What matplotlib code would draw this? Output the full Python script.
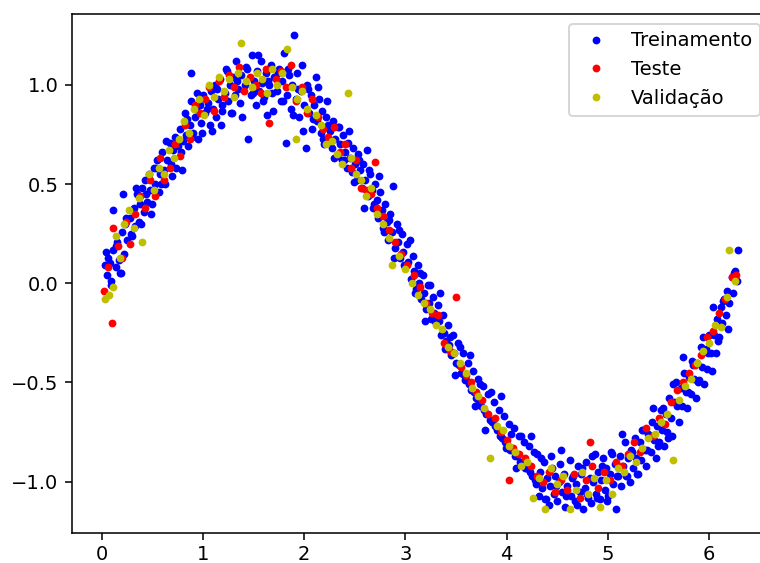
import matplotlib
matplotlib.use("Agg")
import matplotlib.pyplot as plt

# (x, y) points
treino = [
    (0.03, 0.09), (0.05, 0.04), (0.06, 0.13), (0.08, 0.10), (0.09, 0.01), (0.11, 0.17), (0.11, 0.37),
    (0.14, 0.08), (0.15, 0.21), (0.17, 0.12), (0.18, 0.05), (0.20, 0.26), (0.21, 0.45), (0.22, 0.15),
    (0.23, 0.30), (0.25, 0.22), (0.28, 0.33), (0.30, 0.24), (0.32, 0.38), (0.33, 0.29), (0.35, 0.45),
    (0.37, 0.31), (0.38, 0.40), (0.40, 0.48), (0.42, 0.36), (0.43, 0.52), (0.45, 0.41), (0.47, 0.55),
    (0.48, 0.47), (0.50, 0.40), (0.52, 0.58), (0.53, 0.50), (0.55, 0.62), (0.57, 0.46), (0.58, 0.55),
    (0.60, 0.66), (0.62, 0.57), (0.63, 0.50), (0.65, 0.62), (0.67, 0.71), (0.68, 0.60), (0.70, 0.67),
    (0.72, 0.74), (0.73, 0.58), (0.75, 0.69), (0.77, 0.78), (0.78, 0.66), (0.80, 0.72), (0.82, 0.86),
    (0.83, 0.75), (0.85, 0.69), (0.87, 0.80), (0.88, 0.92), (0.88, 1.06), (0.90, 0.76), (0.92, 0.84),
    (0.93, 0.88), (0.95, 0.73), (0.97, 0.90), (0.98, 0.81), (1.00, 0.95), (1.02, 0.86), (1.05, 0.91),
    (1.07, 0.80), (1.08, 0.97), (1.10, 0.88), (1.12, 1.00), (1.13, 0.84), (1.15, 0.93), (1.17, 1.03),
    (1.18, 0.80), (1.19, 0.90), (1.22, 0.96), (1.23, 1.08), (1.25, 0.92), (1.27, 1.00), (1.28, 0.86),
    (1.30, 1.04), (1.32, 0.95), (1.33, 1.12), (1.35, 0.98), (1.37, 0.91), (1.38, 1.05), (1.42, 1.00),
    (1.43, 1.09), (1.45, 0.73), (1.47, 0.95), (1.48, 1.15), (1.50, 1.02), (1.52, 0.90), (1.53, 1.07),
    (1.55, 0.97), (1.57, 1.12), (1.58, 1.01), (1.60, 0.94), (1.62, 1.06), (1.63, 0.85), (1.65, 1.00),
    (1.67, 1.10), (1.68, 0.96), (1.70, 1.04), (1.73, 0.97), (1.75, 1.08), (1.77, 0.92), (1.78, 1.02),
    (1.80, 1.16), (1.82, 0.71), (1.83, 0.95), (1.85, 1.05), (1.87, 0.88), (1.88, 1.00), (1.90, 1.25),
    (1.92, 0.93), (1.93, 1.06), (1.95, 0.84), (1.97, 0.97), (1.98, 1.10), (2.00, 0.90), (2.02, 0.68),
    (2.03, 1.00), (2.05, 0.86), (2.07, 0.95), (2.08, 0.78), (2.10, 0.90), (2.12, 1.04), (2.13, 0.82),
    (2.15, 0.93), (2.17, 0.76), (2.18, 0.87), (2.20, 0.70), (2.22, 0.84), (2.23, 0.92), (2.25, 0.77),
    (2.27, 0.68), (2.28, 0.82), (2.30, 0.73), (2.32, 0.64), (2.33, 0.79), (2.35, 0.70), (2.37, 0.62),
    (2.38, 0.75), (2.40, 0.66), (2.42, 0.58), (2.43, 0.71), (2.45, 0.63), (2.47, 0.56), (2.48, 0.68),
    (2.50, 0.60), (2.52, 0.52), (2.53, 0.65), (2.55, 0.57), (2.57, 0.48), (2.58, 0.60), (2.60, 0.52),
    (2.62, 0.67), (2.63, 0.44), (2.65, 0.55), (2.67, 0.47), (2.68, 0.38), (2.70, 0.50), (2.72, 0.42),
    (2.73, 0.33), (2.75, 0.46), (2.77, 0.37), (2.78, 0.28), (2.80, 0.40), (2.82, 0.31), (2.83, 0.22),
    (2.85, 0.35), (2.87, 0.26), (2.88, 0.49), (2.90, 0.18), (2.92, 0.30), (2.93, 0.21), (2.95, 0.13),
    (2.97, 0.25), (2.98, 0.16), (3.00, 0.08), (3.02, 0.20), (3.03, 0.11), (3.05, 0.02), (3.07, 0.14),
    (3.08, 0.06), (3.10, -0.03), (3.12, 0.09), (3.13, 0.00), (3.15, -0.08), (3.17, 0.04), (3.18, -0.05),
    (3.20, -0.13), (3.22, -0.01), (3.23, -0.10), (3.25, -0.18), (3.27, -0.07), (3.28, -0.15),
    (3.30, -0.20), (3.32, -0.11), (3.33, -0.19), (3.35, -0.26), (3.37, -0.16), (3.38, -0.25),
    (3.40, -0.29), (3.42, -0.21), (3.43, -0.31), (3.45, -0.36), (3.47, -0.26), (3.48, -0.35),
    (3.50, -0.40), (3.52, -0.30), (3.53, -0.41), (3.55, -0.45), (3.57, -0.35), (3.58, -0.46),
    (3.60, -0.49), (3.62, -0.40), (3.63, -0.51), (3.65, -0.54), (3.67, -0.44), (3.68, -0.55),
    (3.70, -0.58), (3.72, -0.48), (3.73, -0.60), (3.75, -0.62), (3.77, -0.52), (3.78, -0.64),
    (3.80, -0.66), (3.82, -0.56), (3.83, -0.69), (3.85, -0.70), (3.87, -0.60), (3.88, -0.72),
    (3.90, -0.74), (3.92, -0.64), (3.93, -0.77), (3.95, -0.78), (3.97, -0.67), (3.98, -0.80),
    (4.00, -0.81), (4.02, -0.71), (4.03, -0.84), (4.05, -0.84), (4.07, -0.73), (4.08, -0.87),
    (4.10, -0.87), (4.12, -0.77), (4.13, -0.90), (4.15, -0.90), (4.17, -0.80), (4.18, -0.93),
    (4.20, -0.93), (4.22, -0.82), (4.23, -0.95), (4.25, -0.97), (4.27, -0.85), (4.28, -0.99),
    (4.30, -0.86), (4.32, -1.07), (4.33, -0.95), (4.35, -1.03), (4.37, -0.90), (4.38, -1.09),
    (4.40, -0.98), (4.42, -1.12), (4.43, -1.02), (4.45, -0.93), (4.47, -1.06), (4.48, -0.97),
    (4.50, -1.10), (4.52, -1.00), (4.53, -0.91), (4.55, -1.05), (4.57, -0.96), (4.58, -1.13),
    (4.60, -1.02), (4.62, -0.89), (4.63, -1.07), (4.65, -0.97), (4.67, -1.10), (4.68, -1.01),
    (4.70, -0.92), (4.72, -1.05), (4.73, -0.96), (4.75, -1.14), (4.77, -1.03), (4.78, -0.90),
    (4.80, -1.08), (4.82, -0.98), (4.83, -1.11), (4.85, -1.00), (4.87, -0.86), (4.88, -1.06),
    (4.90, -0.95), (4.92, -1.09), (4.93, -0.99), (4.95, -0.88), (4.97, -1.04), (4.98, -0.93),
    (5.00, -1.07), (5.02, -0.96), (5.03, -0.85), (5.05, -1.01), (5.07, -0.91), (5.08, -1.14),
    (5.10, -0.97), (5.12, -0.87), (5.13, -1.02), (5.15, -0.92), (5.17, -0.80), (5.18, -0.97),
    (5.20, -0.88), (5.22, -1.00), (5.23, -0.84), (5.25, -0.93), (5.27, -0.78), (5.28, -0.88),
    (5.30, -0.96), (5.32, -0.80), (5.33, -0.89), (5.35, -0.74), (5.37, -0.84), (5.38, -0.92),
    (5.40, -0.76), (5.42, -0.85), (5.43, -0.70), (5.45, -0.79), (5.47, -0.88), (5.48, -0.72),
    (5.50, -0.80), (5.52, -0.64), (5.53, -0.74), (5.55, -0.82), (5.57, -0.66), (5.58, -0.75),
    (5.60, -0.58), (5.62, -0.68), (5.63, -0.77), (5.65, -0.60), (5.67, -0.50), (5.68, -0.62),
    (5.70, -0.70), (5.72, -0.53), (5.73, -0.62), (5.75, -0.45), (5.77, -0.55), (5.78, -0.63),
    (5.80, -0.47), (5.82, -0.56), (5.83, -0.39), (5.85, -0.48), (5.87, -0.58), (5.88, -0.40),
    (5.90, -0.49), (5.92, -0.32), (5.93, -0.42), (5.95, -0.51), (5.97, -0.33), (5.98, -0.43),
    (6.00, -0.26), (6.02, -0.35), (6.03, -0.44), (6.05, -0.26), (6.07, -0.35), (6.08, -0.18),
    (6.10, -0.27), (6.12, -0.12), (6.13, -0.20), (6.15, -0.08), (6.17, -0.16), (6.18, -0.04),
    (6.20, -0.10), (6.22, 0.03), (6.23, -0.05), (6.25, 0.06), (6.27, 0.01), (6.28, 0.17),
]

treino_extra = [
    (0.04, 0.16), (0.09, -0.01), (0.14, 0.19), (0.19, 0.05), (0.24, 0.33), (0.29, 0.25), (0.34, 0.48),
    (0.39, 0.30), (0.44, 0.45), (0.49, 0.35), (0.54, 0.58), (0.59, 0.50), (0.64, 0.72), (0.69, 0.54),
    (0.74, 0.72), (0.79, 0.57), (0.84, 0.83), (0.89, 0.74), (0.94, 0.96), (0.99, 0.76), (1.04, 0.88),
    (1.09, 0.77), (1.14, 0.98), (1.19, 0.87), (1.24, 1.07), (1.29, 0.86), (1.34, 1.02), (1.39, 0.84),
    (1.44, 1.08), (1.49, 0.96), (1.54, 1.15), (1.59, 0.92), (1.64, 1.02), (1.69, 0.87), (1.74, 1.06),
    (1.79, 0.92), (1.84, 1.08), (1.89, 0.85), (1.94, 0.98), (1.99, 0.77), (2.04, 0.98), (2.09, 0.83),
    (2.14, 0.99), (2.19, 0.73), (2.24, 0.80), (2.29, 0.63), (2.34, 0.79), (2.39, 0.62), (2.44, 0.77),
    (2.49, 0.51), (2.54, 0.62), (2.59, 0.38), (2.64, 0.57), (2.69, 0.40), (2.74, 0.54), (2.79, 0.26),
    (2.84, 0.32), (2.89, 0.13), (2.94, 0.27), (2.99, 0.09), (3.04, 0.22), (3.09, -0.05), (3.14, 0.05),
    (3.19, -0.19), (3.24, -0.01), (3.29, -0.19), (3.34, -0.05), (3.39, -0.33), (3.44, -0.27),
    (3.49, -0.46), (3.54, -0.32), (3.59, -0.49), (3.64, -0.36), (3.69, -0.62), (3.74, -0.51),
    (3.79, -0.74), (3.84, -0.55), (3.89, -0.72), (3.94, -0.57), (3.99, -0.83), (4.04, -0.76),
    (4.09, -0.93), (4.14, -0.77), (4.19, -0.93), (4.24, -0.77), (4.29, -1.01), (4.34, -0.88),
    (4.39, -1.09), (4.44, -0.87), (4.49, -1.02), (4.54, -0.84), (4.59, -1.07), (4.64, -0.98),
    (4.69, -1.12), (4.74, -0.93), (4.79, -1.06), (4.84, -0.87), (4.89, -1.08), (4.94, -0.92),
    (4.99, -1.10), (5.04, -0.86), (5.09, -0.97), (5.14, -0.76), (5.19, -0.97), (5.24, -0.85),
    (5.29, -0.96), (5.34, -0.74), (5.39, -0.84), (5.44, -0.63), (5.49, -0.82), (5.54, -0.63),
    (5.59, -0.78), (5.64, -0.51), (5.69, -0.60), (5.74, -0.37), (5.79, -0.55), (5.84, -0.41),
    (5.89, -0.50), (5.94, -0.27), (5.99, -0.35), (6.04, -0.12), (6.09, -0.29), (6.14, -0.09),
    (6.19, -0.23), (6.24, 0.05),
]

teste = [
    (0.02, -0.04), (0.06, 0.08), (0.10, -0.20), (0.11, 0.28), (0.16, 0.19), (0.20, 0.13), (0.24, 0.31),
    (0.28, 0.20), (0.33, 0.35), (0.38, 0.44), (0.43, 0.38), (0.48, 0.52), (0.53, 0.44), (0.58, 0.63),
    (0.62, 0.52), (0.67, 0.58), (0.72, 0.70), (0.77, 0.64), (0.82, 0.80), (0.87, 0.73), (0.92, 0.90),
    (0.97, 0.86), (1.02, 0.93), (1.06, 0.99), (1.11, 0.87), (1.16, 1.02), (1.21, 0.94), (1.26, 1.05),
    (1.31, 0.99), (1.36, 1.09), (1.41, 0.97), (1.46, 1.04), (1.52, 1.00), (1.57, 0.96), (1.62, 1.08),
    (1.65, 0.81), (1.72, 1.03), (1.77, 1.07), (1.82, 0.99), (1.87, 1.10), (1.92, 0.92), (1.98, 0.99),
    (2.03, 0.86), (2.08, 0.93), (2.14, 0.84), (2.19, 0.78), (2.24, 0.74), (2.29, 0.79), (2.35, 0.66),
    (2.40, 0.70), (2.46, 0.58), (2.51, 0.62), (2.56, 0.48), (2.61, 0.47), (2.66, 0.45), (2.70, 0.61),
    (2.72, 0.38), (2.78, 0.34), (2.84, 0.27), (2.90, 0.21), (2.96, 0.15), (3.02, 0.09), (3.08, 0.04),
    (3.14, -0.02), (3.20, -0.10), (3.26, -0.15), (3.32, -0.16), (3.38, -0.30), (3.44, -0.34),
    (3.50, -0.07), (3.55, -0.42), (3.60, -0.46), (3.65, -0.50), (3.70, -0.55), (3.76, -0.59),
    (3.82, -0.66), (3.88, -0.68), (3.94, -0.75), (4.00, -0.79), (4.02, -0.99), (4.06, -0.83),
    (4.12, -0.86), (4.18, -0.88), (4.24, -0.92), (4.30, -0.97), (4.36, -1.00), (4.42, -0.95),
    (4.48, -1.05), (4.54, -0.99), (4.60, -1.04), (4.66, -0.96), (4.72, -1.08), (4.78, -0.99),
    (4.82, -0.80), (4.84, -0.92), (4.90, -1.03), (4.96, -0.95), (5.02, -0.99), (5.08, -0.90),
    (5.14, -0.92), (5.20, -0.86), (5.26, -0.80), (5.32, -0.85), (5.38, -0.73), (5.44, -0.77),
    (5.50, -0.68), (5.56, -0.71), (5.62, -0.60), (5.68, -0.54), (5.74, -0.50), (5.80, -0.45),
    (5.86, -0.41), (5.92, -0.36), (5.98, -0.27), (6.04, -0.24), (6.10, -0.15), (6.16, -0.08),
    (6.22, 0.03), (6.26, 0.04),
]

validacao = [
    (0.03, -0.08), (0.07, -0.06), (0.11, -0.02), (0.14, 0.24), (0.18, 0.13), (0.22, 0.30), (0.27, 0.37),
    (0.32, 0.28), (0.37, 0.43), (0.40, 0.21), (0.47, 0.55), (0.52, 0.47), (0.57, 0.58), (0.62, 0.55),
    (0.66, 0.67), (0.71, 0.63), (0.76, 0.73), (0.81, 0.82), (0.86, 0.76), (0.91, 0.88), (0.96, 0.93),
    (1.01, 0.85), (1.06, 1.00), (1.11, 0.94), (1.16, 1.04), (1.21, 0.97), (1.26, 1.03), (1.31, 0.94),
    (1.35, 1.06), (1.38, 1.21), (1.43, 1.02), (1.48, 0.99), (1.53, 1.06), (1.58, 1.03), (1.63, 0.96),
    (1.68, 1.08), (1.73, 1.00), (1.78, 1.06), (1.83, 1.18), (1.88, 0.99), (1.92, 0.73), (1.93, 0.93),
    (1.98, 0.97), (2.03, 0.88), (2.12, 0.85), (2.17, 0.80), (2.22, 0.70), (2.27, 0.72), (2.32, 0.65),
    (2.37, 0.60), (2.43, 0.96), (2.46, 0.63), (2.51, 0.55), (2.56, 0.52), (2.61, 0.44), (2.66, 0.48),
    (2.72, 0.35), (2.78, 0.30), (2.84, 0.23), (2.87, 0.09), (2.94, 0.14), (3.00, 0.07), (3.06, 0.00),
    (3.12, -0.06), (3.18, -0.10), (3.24, -0.13), (3.30, -0.21), (3.36, -0.23), (3.42, -0.32),
    (3.48, -0.35), (3.54, -0.40), (3.60, -0.45), (3.66, -0.53), (3.72, -0.57), (3.78, -0.63),
    (3.83, -0.88), (3.90, -0.72), (3.96, -0.74), (4.02, -0.82), (4.08, -0.85), (4.14, -0.92),
    (4.20, -0.90), (4.26, -1.08), (4.32, -0.98), (4.38, -1.14), (4.44, -0.93), (4.50, -1.01),
    (4.56, -0.97), (4.62, -1.14), (4.68, -1.04), (4.74, -0.95), (4.80, -1.06), (4.86, -0.98),
    (4.92, -1.13), (4.98, -0.99), (5.04, -1.06), (5.10, -0.93), (5.16, -0.95), (5.22, -0.87),
    (5.28, -0.90), (5.34, -0.83), (5.40, -0.78), (5.46, -0.76), (5.52, -0.70), (5.58, -0.66),
    (5.64, -0.89), (5.70, -0.59), (5.76, -0.52), (5.82, -0.48), (5.88, -0.40), (5.94, -0.34),
    (6.00, -0.30), (6.06, -0.21), (6.12, -0.22), (6.18, -0.07), (6.20, 0.17), (6.25, 0.01),
]

labels = ["Treinamento", "Teste", "Validação"]

DPI = 140
fig = plt.figure(figsize=(760 / DPI, 563 / DPI), dpi=DPI)
ax = fig.add_axes([72 / 760, 30 / 563, 698 / 760, 519 / 563])

series = [(treino + treino_extra, "b.", labels[0]),
          (teste, "r.", labels[1]),
          (validacao, "y.", labels[2])]
for pts, fmt, lab in series:
    xs, ys = zip(*pts)
    ax.plot(xs, ys, fmt, label=lab)

ax.set_xlim(-0.293, 6.60)
ax.set_ylim(-1.259, 1.358)
ax.set_xticks([0, 1, 2, 3, 4, 5, 6])
ax.set_yticks([-1.0, -0.5, 0.0, 0.5, 1.0])
ax.tick_params(axis="x", pad=2.5)
ax.legend(loc="upper right")

fig.savefig("out.png", dpi=DPI)
